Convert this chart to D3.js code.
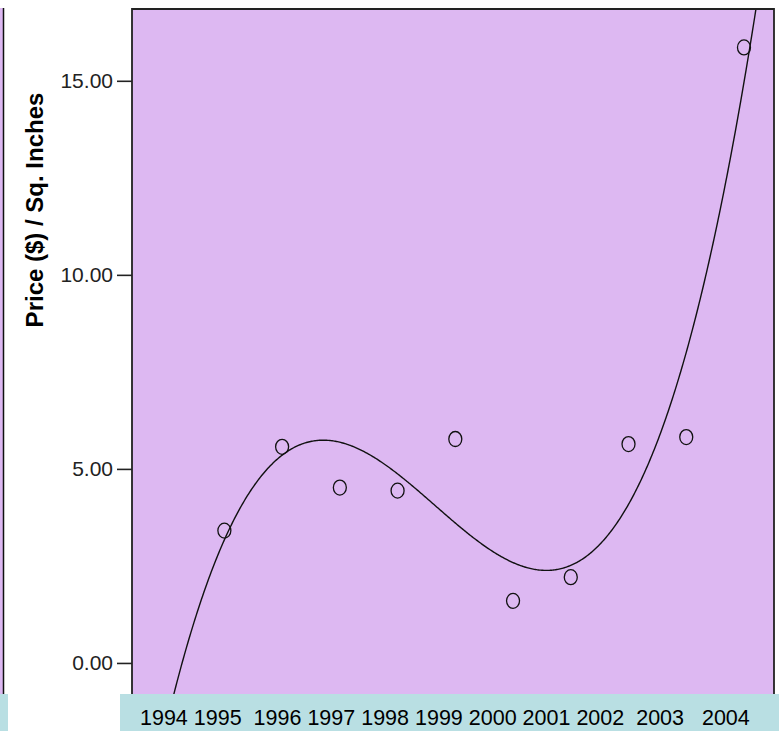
<!DOCTYPE html>
<html>
<head>
<meta charset="utf-8">
<script src="https://cdn.jsdelivr.net/npm/d3@7"></script>
<style>
  html, body { margin: 0; padding: 0; background: #ffffff; }
  svg { display: block; }
</style>
</head>
<body>
<svg id="chart" width="779" height="731"></svg>
<script>
// ---- data ----
const years  = [1995, 1996, 1997, 1998, 1999, 2000, 2001, 2002, 2003, 2004];
const prices = [3.41, 5.57, 4.52, 4.44, 5.77, 1.60, 2.21, 5.64, 5.82, 15.86];
const yTicks = [0, 5, 10, 15];
const xLabels   = ["1994","1995","1996","1997","1998","1999","2000","2001","2002","2003","2004"];
const labelGaps = [1, 2, 1, 1, 1, 1, 1, 1, 2, 3, 0];
const yTitle = "Price ($) / Sq. Inches";

// ---- layout ----
const W = 779, H = 731;
const plot = { left: 132, right: 774, top: 9, bottom: 694 };
const purple = "#ddb8f2", cyan = "#b9dfe3";

const svg = d3.select("#chart");

const x = d3.scaleLinear().domain([1993.40, 2004.52]).range([plot.left, plot.right]);
const y = d3.scaleLinear().domain([-0.80, 16.85]).range([plot.bottom, plot.top]);

// left-edge remnant of neighbouring panel
svg.append("rect").attr("x", 0).attr("y", 8).attr("width", 3).attr("height", plot.bottom - 8).attr("fill", purple);
svg.append("line").attr("x1", 3.5).attr("x2", 3.5).attr("y1", 8).attr("y2", plot.bottom)
  .attr("stroke", "#111").attr("stroke-width", 1.5);

// plot background
svg.append("rect")
  .attr("x", plot.left).attr("y", plot.top)
  .attr("width", plot.right - plot.left).attr("height", plot.bottom - plot.top)
  .attr("fill", purple);

// cubic least-squares fit computed from the data
function cubicFit(xs, ys) {
  const n = 4, A = [], b = [];
  for (let i = 0; i < n; i++) { A.push(new Array(n).fill(0)); b.push(0); }
  xs.forEach((xv, k) => {
    const p = [1, xv, xv*xv, xv*xv*xv];
    for (let i = 0; i < n; i++) {
      b[i] += p[i] * ys[k];
      for (let j = 0; j < n; j++) A[i][j] += p[i] * p[j];
    }
  });
  for (let c = 0; c < n; c++) {
    let piv = c;
    for (let r = c + 1; r < n; r++) if (Math.abs(A[r][c]) > Math.abs(A[piv][c])) piv = r;
    [A[c], A[piv]] = [A[piv], A[c]]; [b[c], b[piv]] = [b[piv], b[c]];
    for (let r = c + 1; r < n; r++) {
      const f = A[r][c] / A[c][c];
      for (let j = c; j < n; j++) A[r][j] -= f * A[c][j];
      b[r] -= f * b[c];
    }
  }
  const coef = new Array(n).fill(0);
  for (let i = n - 1; i >= 0; i--) {
    let s = b[i];
    for (let j = i + 1; j < n; j++) s -= A[i][j] * coef[j];
    coef[i] = s / A[i][i];
  }
  return coef;
}
const x0 = d3.mean(years);
const coef = cubicFit(years.map(v => v - x0), prices);
const fitFn = v => { const u = v - x0; return coef[0] + coef[1]*u + coef[2]*u*u + coef[3]*u*u*u; };

const xDom = x.domain();
const curvePts = d3.range(0, 601).map(i => {
  const xv = xDom[0] + (xDom[1] - xDom[0]) * i / 600;
  return [xv, fitFn(xv)];
});

svg.append("clipPath").attr("id", "plotClip")
  .append("rect").attr("x", plot.left).attr("y", plot.top)
  .attr("width", plot.right - plot.left).attr("height", plot.bottom - plot.top);

svg.append("path")
  .datum(curvePts)
  .attr("clip-path", "url(#plotClip)")
  .attr("fill", "none")
  .attr("stroke", "#111")
  .attr("stroke-width", 1.4)
  .attr("d", d3.line().x(d => x(d[0])).y(d => y(d[1])));

// data points
svg.append("g").selectAll("ellipse")
  .data(years.map((yr, i) => ({ yr, v: prices[i] })))
  .join("ellipse")
  .attr("cx", d => x(d.yr)).attr("cy", d => y(d.v))
  .attr("rx", 6.5).attr("ry", 7.5)
  .attr("fill", "none").attr("stroke", "#111").attr("stroke-width", 1.3);

// border (top, left, right)
svg.append("path")
  .attr("d", `M${plot.left},${plot.bottom}V${plot.top}H${plot.right}V${plot.bottom}`)
  .attr("fill", "none").attr("stroke", "#222").attr("stroke-width", 1.8);

// y axis
const yAxis = svg.append("g")
  .attr("transform", `translate(${plot.left},0)`)
  .call(d3.axisLeft(y).tickValues(yTicks).tickFormat(d3.format(".2f")).tickSize(15).tickPadding(4));
yAxis.select(".domain").remove();
yAxis.selectAll(".tick line").attr("stroke", "#222").attr("stroke-width", 1.6);
yAxis.selectAll(".tick text")
  .attr("fill", "#222")
  .style("font-family", "Arial, 'Liberation Sans', sans-serif")
  .style("font-size", "21px");

// y title
svg.append("text")
  .attr("transform", `translate(43,210) rotate(-90)`)
  .attr("text-anchor", "middle")
  .style("font-family", "Arial, 'Liberation Sans', sans-serif")
  .style("font-weight", "bold")
  .style("font-size", "24px")
  .attr("fill", "#000")
  .text(yTitle);

// bottom cyan bands
svg.append("rect").attr("x", 0).attr("y", plot.bottom).attr("width", 8).attr("height", H - plot.bottom).attr("fill", cyan);
svg.append("rect").attr("x", 120).attr("y", plot.bottom).attr("width", W - 120).attr("height", H - plot.bottom).attr("fill", cyan);

// year labels (one text run with its original spacing)
const labelText = xLabels.map((l, i) => l + " ".repeat(labelGaps[i])).join("");
svg.append("text")
  .attr("x", 140).attr("y", 725)
  .attr("xml:space", "preserve")
  .style("white-space", "pre")
  .style("font-family", "Arial, 'Liberation Sans', sans-serif")
  .style("font-size", "21.5px")
  .attr("fill", "#000")
  .text(labelText);
</script>
</body>
</html>
